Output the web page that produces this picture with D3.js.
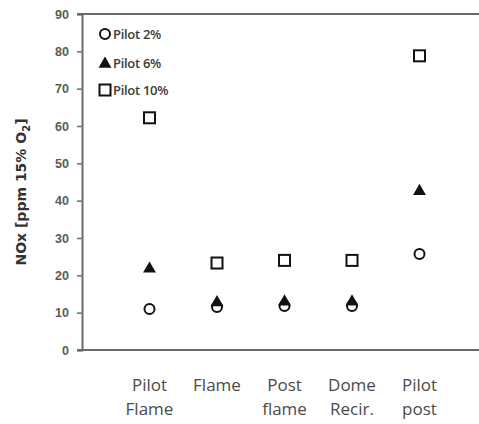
<!DOCTYPE html>
<html>
<head>
<meta charset="utf-8">
<script src="https://cdn.jsdelivr.net/npm/d3@7/dist/d3.min.js"></script>
<style>
  html, body { margin: 0; padding: 0; background: #fff; }
  svg { display: block; font-family: "Open Sans", "Noto Sans", sans-serif; }
</style>
</head>
<body>
<svg id="chart" width="479" height="424"></svg>
<script>
// Locations along the combustor
const categories = [["Pilot", "Flame"], ["Flame"], ["Post", "flame"], ["Dome", "Recir."], ["Pilot", "post"]];
const categoryKeys = ["Pilot Flame", "Flame", "Post flame", "Dome Recir.", "Pilot post"];

// NOx [ppm @ 15% O2] per pilot fuel split
const pilot2 = [11, 11.5, 11.8, 11.8, 25.7];
const pilot6 = [22, 13, 13.2, 13.2, 42.8];
const pilot10 = [62.2, 23.3, 24, 24, 78.8];

const seriesNames = ["Pilot 2%", "Pilot 6%", "Pilot 10%"];
const yTicks = [0, 10, 20, 30, 40, 50, 60, 70, 80, 90];

const svg = d3.select("#chart");
const plotLeft = 82, plotTop = 14, plotBottom = 350, plotRight = 479;

const x = d3.scalePoint().domain(categoryKeys).range([plotLeft, 487]).padding(1);
const y = d3.scaleLinear().domain([0, 90]).range([plotBottom, plotTop]);

// frame lines: top border
svg.append("line").attr("x1", 77).attr("x2", plotRight).attr("y1", y(90)).attr("y2", y(90))
  .attr("stroke", "#6b6b6b").attr("stroke-width", 2);

// y axis
const yAxis = d3.axisLeft(y).tickValues(yTicks).tickSize(5).tickPadding(8);
const gy = svg.append("g").attr("transform", `translate(${plotLeft},0)`).call(yAxis);
gy.select(".domain").attr("stroke", "#6b6b6b").attr("stroke-width", 2);
gy.selectAll(".tick line").attr("stroke", "#6b6b6b").attr("stroke-width", 1.5);
gy.selectAll(".tick text").attr("fill", "#5a5a5a").style("font-size", "12.5px").style("font-weight", "600");

// x baseline
svg.append("line").attr("x1", 77).attr("x2", plotRight).attr("y1", y(0)).attr("y2", y(0))
  .attr("stroke", "#6b6b6b").attr("stroke-width", 2);

// category labels (two lines each)
const catG = svg.append("g");
categories.forEach((lines, i) => {
  const t = catG.append("text")
    .attr("x", x(categoryKeys[i]))
    .attr("y", 391)
    .attr("text-anchor", "middle")
    .attr("fill", "#4a4a4a")
    .style("font-size", "17px");
  lines.forEach((ln, j) => {
    t.append("tspan").attr("x", x(categoryKeys[i])).attr("dy", j === 0 ? 0 : 24).text(ln);
  });
});

// y axis title
svg.append("text")
  .attr("transform", `translate(26,192) rotate(-90)`)
  .attr("text-anchor", "middle")
  .attr("fill", "#333")
  .style("font-family", "'DejaVu Sans', sans-serif")
  .style("font-size", "14px")
  .style("font-weight", "bold")
  .html('NOx [ppm 15% O<tspan dy="4" font-size="10px">2</tspan><tspan dy="-4">]</tspan>');

// marker shapes
const tri = d3.symbol().type(d3.symbolTriangle).size(72);

function drawCircle(g, cx, cy) {
  g.append("circle").attr("cx", cx).attr("cy", cy).attr("r", 5)
    .attr("fill", "#fff").attr("stroke", "#111").attr("stroke-width", 2);
}
function drawTri(g, cx, cy) {
  g.append("path").attr("d", tri()).attr("transform", `translate(${cx},${cy + 1})`)
    .attr("fill", "#111");
}
function drawSquare(g, cx, cy) {
  g.append("rect").attr("x", cx - 5.5).attr("y", cy - 5.5).attr("width", 11).attr("height", 11)
    .attr("fill", "none").attr("stroke", "#111").attr("stroke-width", 2);
}

const marks = svg.append("g");
pilot2.forEach((v, i) => drawCircle(marks, x(categoryKeys[i]), y(v)));
pilot6.forEach((v, i) => drawTri(marks, x(categoryKeys[i]), y(v)));
pilot10.forEach((v, i) => drawSquare(marks, x(categoryKeys[i]), y(v)));

// legend
const legend = svg.append("g");
const drawers = [drawCircle, drawTri, drawSquare];
const legendRows = [34, 63, 90];
seriesNames.forEach((name, i) => {
  const ly = legendRows[i];
  drawers[i](legend, 105, ly);
  legend.append("text").attr("x", 113).attr("y", ly + 4.5)
    .attr("fill", "#3a3a3a").style("font-size", "13px").style("font-weight", "600")
    .style("letter-spacing", "-0.3px").text(name);
});
</script>
</body>
</html>
